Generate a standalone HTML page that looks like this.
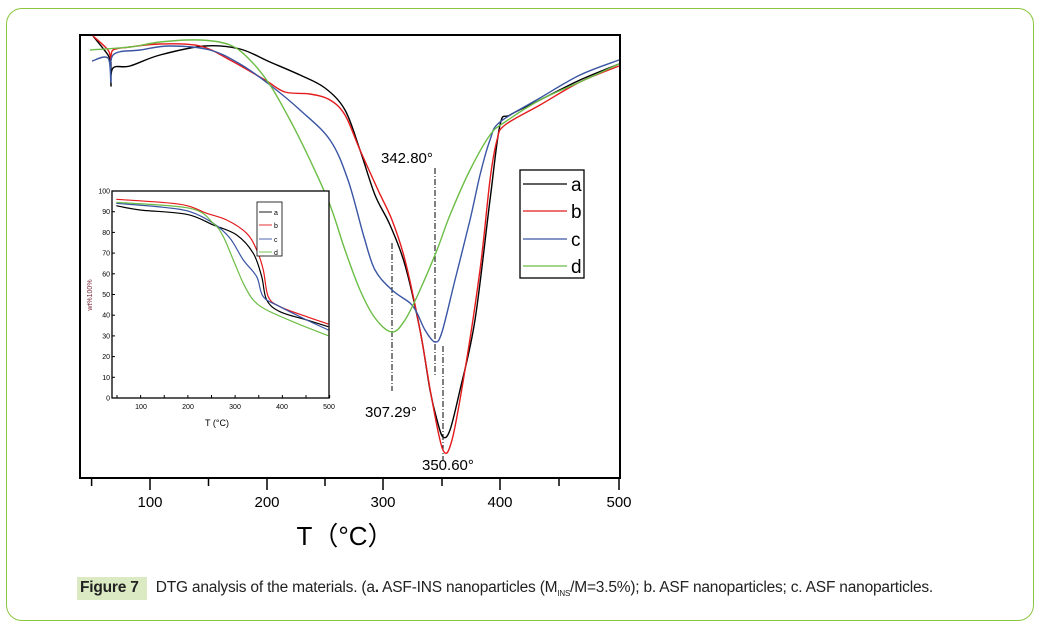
<!DOCTYPE html>
<html><head><meta charset="utf-8">
<style>
html,body{margin:0;padding:0;background:#fff;}
body{width:1043px;height:628px;position:relative;overflow:hidden;font-family:"Liberation Sans",sans-serif;}
.frame{position:absolute;left:6px;top:8px;width:1026px;height:611px;border:1.5px solid #8cc63f;border-radius:16px;}
.cap{position:absolute;left:77px;top:577px;font-size:15.5px;color:#222;white-space:nowrap;letter-spacing:-0.2px;}
.cap b{display:inline-block;background:#dbeac3;padding:2px 8px 3px 3px;margin-right:9px;font-weight:bold;}
</style></head><body>
<div class="frame"></div>
<svg width="1043" height="628" style="position:absolute;left:0;top:0" font-family="Liberation Sans, sans-serif">
<rect x="80" y="35" width="540" height="443" fill="none" stroke="#000" stroke-width="2"/>
<g stroke="#000" stroke-width="1.5">
<line x1="91.6" y1="478" x2="91.6" y2="486"/><line x1="150" y1="478" x2="150" y2="490"/>
<line x1="208.5" y1="478" x2="208.5" y2="486"/><line x1="267" y1="478" x2="267" y2="490"/>
<line x1="325" y1="478" x2="325" y2="486"/><line x1="383" y1="478" x2="383" y2="490"/>
<line x1="442" y1="478" x2="442" y2="486"/><line x1="500" y1="478" x2="500" y2="490"/>
<line x1="559" y1="478" x2="559" y2="486"/><line x1="619" y1="478" x2="619" y2="490"/>
</g>
<g font-size="15" text-anchor="middle" fill="#000">
<text x="150" y="507">100</text><text x="267" y="507">200</text><text x="383" y="507">300</text><text x="500" y="507">400</text><text x="619" y="507">500</text>
</g>
<text x="345" y="545" font-size="26" text-anchor="middle" font-family="Liberation Sans, 'Noto Sans CJK SC', sans-serif">T（°C）</text>
<text x="381" y="163" font-size="15">342.80°</text>
<text x="365" y="417" font-size="15">307.29°</text>
<text x="422" y="470" font-size="15">350.60°</text>
<g stroke="#000" stroke-width="1" stroke-dasharray="6,2,1,2">
<line x1="435" y1="168" x2="435" y2="375"/>
<line x1="392" y1="243" x2="392" y2="391"/>
<line x1="443" y1="346" x2="443" y2="460"/>
</g>
<g id="main" fill="none" stroke-width="1.4"></g>
<rect x="520" y="170" width="64" height="108" fill="#fff" stroke="#000" stroke-width="1.3"/>
<g stroke-width="1.3">
<line x1="523" y1="184" x2="567" y2="184" stroke="#000"/>
<line x1="523" y1="211" x2="567" y2="211" stroke="#e41a1c"/>
<line x1="523" y1="239" x2="567" y2="239" stroke="#3a55a4"/>
<line x1="523" y1="266" x2="567" y2="266" stroke="#6cbd45"/>
</g>
<g font-size="19"><text x="571" y="191">a</text><text x="571" y="218">b</text><text x="571" y="246">c</text><text x="571" y="273">d</text></g>
<rect x="112" y="191" width="217" height="207" fill="#fff" stroke="#000" stroke-width="1.3"/>
<g id="ticks" stroke="#000" stroke-width="1"></g>
<g font-size="7" fill="#000" text-anchor="end" id="ylab"></g>
<g font-size="7" fill="#000" text-anchor="middle">
<text x="141" y="409">100</text><text x="188" y="409">200</text><text x="235" y="409">300</text><text x="282" y="409">400</text><text x="329" y="409">500</text>
</g>
<text x="217" y="426" font-size="9" text-anchor="middle">T (°C)</text>
<text x="92" y="295" font-size="7" fill="#7a2a3a" transform="rotate(-90 92 295)" text-anchor="middle">wt%100%</text>
<g id="ins" fill="none" stroke-width="1.2"></g>
<rect x="257" y="202" width="25" height="54" fill="#fff" stroke="#000" stroke-width="0.8"/>
<g stroke-width="0.9">
<line x1="259" y1="212" x2="272" y2="212" stroke="#000"/><line x1="259" y1="225" x2="272" y2="225" stroke="#e41a1c"/>
<line x1="259" y1="239" x2="272" y2="239" stroke="#3a55a4"/><line x1="259" y1="252" x2="272" y2="252" stroke="#6cbd45"/>
</g>
<g font-size="7"><text x="274" y="215">a</text><text x="274" y="228">b</text><text x="274" y="242">c</text><text x="274" y="255">d</text></g>
</svg>
<div class="cap"><b>Figure 7</b>DTG analysis of the materials. (a<b style="background:none;padding:0;margin:0">.</b> ASF-INS nanoparticles (M<sub style="font-size:8px">INS</sub>/M=3.5%); b. ASF nanoparticles; c. ASF nanoparticles.</div>
<script>
function cr(p){let d="M"+p[0][0]+","+p[0][1];for(let i=0;i<p.length-1;i++){const a=p[i-1]||p[i],b=p[i],c=p[i+1],e=p[i+2]||c;
d+=" C"+(b[0]+(c[0]-a[0])/6).toFixed(1)+","+(b[1]+(c[1]-a[1])/6).toFixed(1)+" "+(c[0]-(e[0]-b[0])/6).toFixed(1)+","+(c[1]-(e[1]-b[1])/6).toFixed(1)+" "+c[0]+","+c[1];}return d;}
function add(g,pts,col,w){const el=document.createElementNS("http://www.w3.org/2000/svg","path");el.setAttribute("d",cr(pts));el.setAttribute("stroke",col);if(w)el.setAttribute("stroke-width",w);document.getElementById(g).appendChild(el);}
const K="#000",R="#e41a1c",B="#3a55a4",G="#6cbd45";
add("main",[[93,36],[108,55],[110,62]],K);
add("main",[[111,62],[111,86],[113,68],[130,66],[160,55],[205,46],[240,49],[270,62],[300,75],[325,88],[345,110],[360,150],[375,195],[390,225],[405,265],[420,330],[430,390],[437,420],[443,437],[450,430],[460,390],[475,320],[490,200],[500,125],[510,115],[540,100],[580,80],[619,64]],K);
add("main",[[93,36],[108,50],[111,60],[113,50],[130,47],[160,44],[200,46],[230,60],[265,80],[285,92],[310,94],[330,100],[345,115],[360,150],[378,190],[392,220],[405,260],[420,330],[432,400],[443,450],[452,440],[465,370],[480,270],[490,180],[497,140],[505,125],[540,105],[580,82],[619,66]],R);
add("main",[[92,61],[108,58],[111,82],[113,55],[140,50],[170,46],[210,50],[240,64],[270,85],[300,110],[330,140],[348,180],[364,237],[375,270],[392,290],[410,303],[417,313],[425,330],[435,342],[442,332],[455,280],[470,220],[480,175],[490,140],[500,122],[540,98],[580,75],[619,60]],B);
add("main",[[90,50],[130,47],[160,42],[200,40],[230,45],[250,60],[270,85],[290,120],[310,160],[330,205],[345,250],[360,290],[375,318],[392,332],[405,320],[420,290],[437,250],[450,215],[470,170],[490,135],[505,122],[540,100],[580,82],[619,64]],G);
function ins(pts,col){add("ins",pts.map(p=>[+(80+p[0]/3).toFixed(1),+(170+p[1]/3).toFixed(1)]),col);}
ins([[109,107],[180,120],[320,133],[400,165],[470,195],[520,250],[545,320],[560,390],[600,425],[680,450],[745,470]],K);
ins([[109,88],[300,103],[380,130],[440,150],[500,190],[530,240],[550,300],[565,380],[600,410],[680,440],[745,462]],R);
ins([[109,100],[250,112],[330,125],[400,160],[450,205],[490,270],[530,320],[550,380],[600,410],[680,450],[745,480]],B);
ins([[109,97],[330,115],[400,160],[430,200],[460,270],[490,340],[520,390],[560,420],[650,460],[745,497]],G);
const t=document.getElementById("ticks"),yl=document.getElementById("ylab");
for(let v=0;v<=100;v+=10){const y=398-2.07*v;t.insertAdjacentHTML("beforeend",`<line x1="112" y1="${y}" x2="115" y2="${y}"/>`);yl.insertAdjacentHTML("beforeend",`<text x="110" y="${y+2.5}">${v}</text>`);}
for(let T=50;T<=500;T+=50){const x=117+(T-50)*0.4725;t.insertAdjacentHTML("beforeend",`<line x1="${x}" y1="398" x2="${x}" y2="395"/>`);}
</script>
</body></html>
